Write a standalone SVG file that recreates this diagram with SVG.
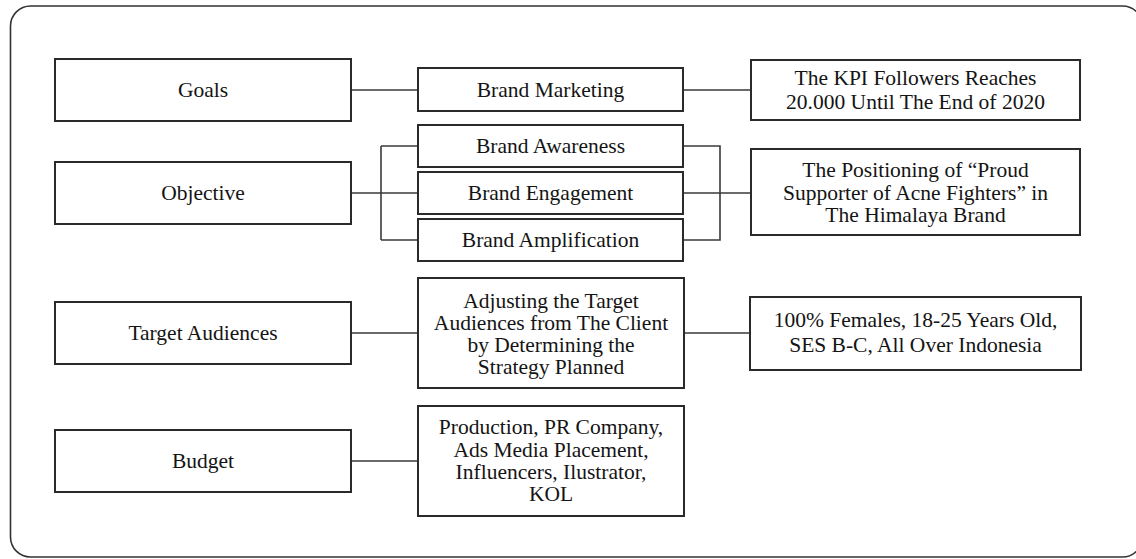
<svg xmlns="http://www.w3.org/2000/svg" width="1136" height="559" viewBox="0 0 1136 559">
<style>
.box{fill:#fff;stroke:#2a2a2a;stroke-width:2}
.frame{fill:#fff;stroke:#333;stroke-width:1.6}
.con{fill:none;stroke:#3a3a3a;stroke-width:1.6}
text{font-family:"Liberation Serif","Times New Roman",serif;font-size:21.5px;fill:#141414;text-anchor:middle}
</style>
<rect class="frame" x="10.5" y="6" width="1132" height="551" rx="20" ry="20"/>
<g id="connectors">
<path class="con" d="M351 90H418M683 90H751"/>
<path class="con" d="M351 193H418M381 146V240M381 146H418M381 240H418"/>
<path class="con" d="M683 146H720V240H683M683 193H751"/>
<path class="con" d="M351 333H418M684 333H750"/>
<path class="con" d="M351 461H418"/>
</g>
<g id="goals"><rect class="box" x="55" y="59" width="296" height="62"/><text x="203" y="97">Goals</text></g>
<g id="objective"><rect class="box" x="55" y="162" width="296" height="62"/><text x="203" y="200">Objective</text></g>
<g id="target-audiences"><rect class="box" x="55" y="302" width="296" height="62"/><text x="203" y="340">Target Audiences</text></g>
<g id="budget"><rect class="box" x="55" y="430" width="296" height="62"/><text x="203" y="468">Budget</text></g>
<g id="brand-marketing"><rect class="box" x="418" y="68" width="265" height="43"/><text x="550.5" y="96.5">Brand Marketing</text></g>
<g id="brand-awareness"><rect class="box" x="418" y="125" width="265" height="42"/><text x="550.5" y="153">Brand Awareness</text></g>
<g id="brand-engagement"><rect class="box" x="418" y="172" width="265" height="42"/><text x="550.5" y="200">Brand Engagement</text></g>
<g id="brand-amplification"><rect class="box" x="418" y="219" width="265" height="42"/><text x="550.5" y="247">Brand Amplification</text></g>
<g id="kpi"><rect class="box" x="751" y="60" width="329" height="60"/><text x="915.5" y="85">The KPI Followers Reaches</text><text x="915.5" y="109">20.000 Until The End of 2020</text></g>
<g id="positioning"><rect class="box" x="751" y="149" width="329" height="86"/><text x="915.5" y="177">The Positioning of “Proud</text><text x="915.5" y="199.5">Supporter of Acne Fighters” in</text><text x="915.5" y="222">The Himalaya Brand</text></g>
<g id="adjusting"><rect class="box" x="418" y="278" width="266" height="110"/><text x="551" y="308">Adjusting the Target</text><text x="551" y="330">Audiences from The Client</text><text x="551" y="352">by Determining the</text><text x="551" y="374">Strategy Planned</text></g>
<g id="demographics"><rect class="box" x="750" y="297" width="331" height="73"/><text x="915.5" y="327">100% Females, 18-25 Years Old,</text><text x="915.5" y="352">SES B-C, All Over Indonesia</text></g>
<g id="budget-items"><rect class="box" x="418" y="406" width="266" height="110"/><text x="551" y="434">Production, PR Company,</text><text x="551" y="456.5">Ads Media Placement,</text><text x="551" y="479">Influencers, Ilustrator,</text><text x="551" y="501">KOL</text></g>
</svg>
